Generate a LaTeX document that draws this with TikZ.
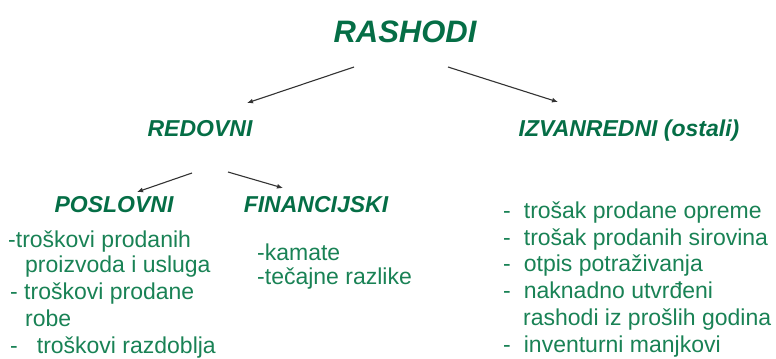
\documentclass[tikz,border=0pt]{standalone}
\usepackage{fontspec}
\setmainfont{Liberation Sans}
\usepackage{xcolor}
\usepackage{tikz}
\usetikzlibrary{positioning,calc,arrows.meta}

\definecolor{headgreen}{RGB}{5,110,70}
\definecolor{bodygreen}{RGB}{25,130,85}

\tikzset{
  title/.style={anchor=base, inner sep=0pt, text=headgreen, font=\fontsize{31bp}{31bp}\selectfont\bfseries\itshape},
  head/.style={anchor=base, inner sep=0pt, text=headgreen, font=\fontsize{23bp}{23bp}\selectfont\bfseries\itshape},
  item/.style={anchor=base west, inner sep=0pt, text=bodygreen, font=\fontsize{23bp}{27bp}\selectfont},
  arr/.style={-{Latex[length=6bp,width=5bp]}, line width=1.1bp, draw=black!80}
}

\begin{document}
\begin{tikzpicture}[x=1bp,y=-1bp]
        \useasboundingbox (0,0) rectangle (776,358);
        % Title
        \node[title] (rashodi) at (405,42) {RASHODI};
        
        % Second level
        \node[head] (redovni) at (200,136) {REDOVNI};
        \node[head] (izvan) at (629,136) {IZVANREDNI (ostali)};
        
        % Third level
        \node[head] (poslovni) at (114,212) {POSLOVNI};
        \node[head] (financ) at (316,212) {FINANCIJSKI};
        
        % Arrows
        \draw[arr] ($(rashodi.base)+(-51,25)$) -- ($(redovni.base)+(47,-33)$);
        \draw[arr] ($(rashodi.base)+(43,25)$) -- ($(izvan.base)+(-71,-34)$);
        \draw[arr] ($(redovni.base)+(-8,37)$) -- ($(poslovni.base)+(23,-20)$);
        \draw[arr] ($(redovni.base)+(28,36)$) -- ($(financ.base)+(-33,-24)$);
        
        % Poslovni
        \node[item] (p1) at (8,247) {-troškovi prodanih};
        \node[item] (p2) at (25,272) {proizvoda i usluga};
        \node[item] (p3) at (10,299) {- troškovi prodane};
        \node[item] (p4) at (25,326) {robe};
        \node[item] (p5) at (10,353) {-\hspace{19bp}troškovi razdoblja};
        
        % Financijski
        \node[item] (f1) at (257,260) {-kamate};
        \node[item] (f2) at (257,284) {-tečajne razlike};
        
        % Izvanredni
        \node[item] (i1) at (503,218) {-\hspace{13bp}trošak prodane opreme};
        \node[item] (i2) at (503,245) {-\hspace{13bp}trošak prodanih sirovina};
        \node[item] (i3) at (503,271) {-\hspace{13bp}otpis potraživanja};
        \node[item] (i4) at (503,298) {-\hspace{13bp}naknadno utvrđeni};
        \node[item] (i5) at (523,325) {rashodi iz prošlih godina};
        \node[item] (i6) at (503,352) {-\hspace{13bp}inventurni manjkovi};
    \end{tikzpicture}
\end{document}
